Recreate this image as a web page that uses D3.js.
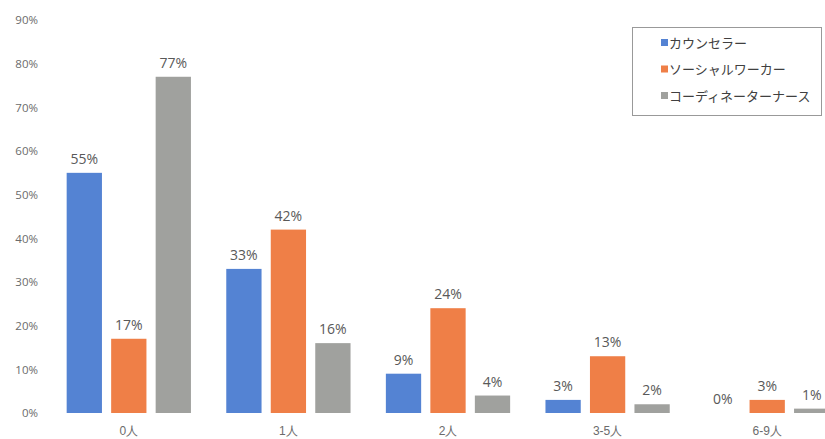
<!DOCTYPE html>
<html>
<head>
<meta charset="utf-8">
<script src="https://cdn.jsdelivr.net/npm/d3@7"></script>
<style>
  body { margin: 0; background: #fff; }
  svg { display: block; font-family: "Noto Sans CJK JP", "Noto Sans", sans-serif; }
</style>
</head>
<body>
<div id="chart"></div>
<script>
// カテゴリ（人数）
const categories = ["0人", "1人", "2人", "3-5人", "6-9人"];
const seriesNames = ["カウンセラー", "ソーシャルワーカー", "コーディネーターナース"];
const counselor = [55, 33, 9, 3, 0];
const socialWorker = [17, 42, 24, 13, 3];
const nurse = [77, 16, 4, 2, 1];
const yTicks = [0, 10, 20, 30, 40, 50, 60, 70, 80, 90];

const colors = ["#5483d3", "#ef7f47", "#a0a19e"];
const seriesValues = [counselor, socialWorker, nurse];

const width = 825;
const height = 439;

const svg = d3.select("#chart").append("svg")
  .attr("width", width)
  .attr("height", height);

// 右端は画面外まで続く
const x0 = d3.scaleBand()
  .domain(categories)
  .range([49, 847]);

const x1 = d3.scaleBand()
  .domain(seriesNames)
  .range([0, x0.bandwidth()])
  .paddingInner(0.207)
  .paddingOuter(0.397);

const y = d3.scaleLinear()
  .domain([0, 90])
  .range([413, 20]);

// y軸ラベル
const yAxis = svg.append("g")
  .attr("transform", "translate(38,0)")
  .call(d3.axisLeft(y).tickValues(yTicks).tickFormat(d => d + "%").tickSize(0).tickPadding(0));
yAxis.select(".domain").remove();
yAxis.selectAll("text")
  .style("font-size", "11.5px")
  .style("font-family", "'Open Sans', sans-serif")
  .attr("fill", "#6b6b6b");

// x軸ラベル
const xAxis = svg.append("g")
  .attr("transform", "translate(0,413)")
  .call(d3.axisBottom(x0).tickSize(0).tickPadding(13));
xAxis.select(".domain").remove();
xAxis.selectAll("text")
  .style("font-size", "12px")
  .attr("fill", "#6b6b6b");

// 棒
const rows = categories.flatMap((c, i) => seriesNames.map((s, j) => ({
  cat: c, series: s, idx: j, value: seriesValues[j][i]
})));

svg.append("g").selectAll("rect")
  .data(rows)
  .enter().append("rect")
  .attr("x", d => x0(d.cat) + x1(d.series))
  .attr("y", d => y(d.value))
  .attr("width", x1.bandwidth())
  .attr("height", d => y(0) - y(d.value))
  .attr("fill", d => colors[d.idx]);

// 値ラベル
svg.append("g").selectAll("text")
  .data(rows)
  .enter().append("text")
  .attr("x", d => x0(d.cat) + x1(d.series) + x1.bandwidth() / 2)
  .attr("y", d => y(d.value) - 9)
  .attr("text-anchor", "middle")
  .style("font-size", "14px")
  .style("font-family", "'Open Sans', sans-serif")
  .attr("fill", "#595959")
  .text(d => d.value + "%");

// 凡例
const legend = svg.append("g");
legend.append("rect")
  .attr("x", 632.5)
  .attr("y", 27.5)
  .attr("width", 189)
  .attr("height", 88)
  .attr("fill", "#fff")
  .attr("stroke", "#999")
  .attr("stroke-width", 1);

seriesNames.forEach((s, i) => {
  const g = legend.append("g")
    .attr("transform", `translate(661,${43 + i * 26.5})`);
  g.append("rect")
    .attr("x", 0)
    .attr("y", -4)
    .attr("width", 7)
    .attr("height", 7)
    .attr("fill", colors[i]);
  g.append("text")
    .attr("x", 8)
    .attr("y", 4.5)
    .style("font-size", "13px")
    .attr("fill", "#404040")
    .text(s);
});
</script>
</body>
</html>
